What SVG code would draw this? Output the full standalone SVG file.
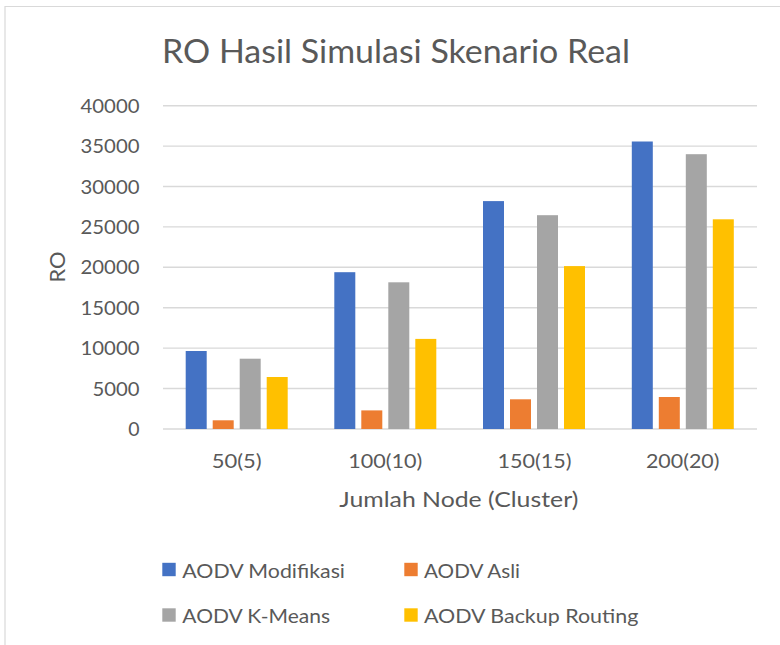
<svg xmlns="http://www.w3.org/2000/svg" width="780" height="645" viewBox="0 0 780 645">
  <style>
    .txt { font-family: Lato, "Open Sans", "Liberation Sans", sans-serif; fill: #595959; }
    .title { font-size: 32px; }
    .tick { font-size: 19.5px; text-anchor: end; }
    .cat { font-size: 19.5px; text-anchor: middle; }
    .axt { font-size: 22px; text-anchor: middle; }
    .leg { font-size: 19px; }
    .grid { stroke: #d9d9d9; stroke-width: 1.4; fill: none; }
    .s1 { fill: #4472c4; }
    .s2 { fill: #ed7d31; }
    .s3 { fill: #a5a5a5; }
    .s4 { fill: #ffc000; }
  </style>
  <rect x="0" y="0" width="780" height="645" fill="#ffffff"/>
  <!-- chart frame -->
  <path d="M5 645 V6.5 H780" fill="none" stroke="#d9d9d9" stroke-width="1.2"/>

  <text class="txt title" x="162" y="63" textLength="468" lengthAdjust="spacingAndGlyphs">RO Hasil Simulasi Skenario Real</text>

  <!-- gridlines -->
  <g id="gridlines">
    <line class="grid" x1="163" y1="105.7" x2="757" y2="105.7"/>
    <line class="grid" x1="163" y1="146.1" x2="757" y2="146.1"/>
    <line class="grid" x1="163" y1="186.5" x2="757" y2="186.5"/>
    <line class="grid" x1="163" y1="226.9" x2="757" y2="226.9"/>
    <line class="grid" x1="163" y1="267.3" x2="757" y2="267.3"/>
    <line class="grid" x1="163" y1="307.7" x2="757" y2="307.7"/>
    <line class="grid" x1="163" y1="348.1" x2="757" y2="348.1"/>
    <line class="grid" x1="163" y1="388.5" x2="757" y2="388.5"/>
    <line class="grid" x1="163" y1="429" x2="757" y2="429"/>
  </g>

  <!-- value axis labels -->
  <g id="y-axis">
    <text class="txt tick" x="139.5" y="112.7" textLength="59" lengthAdjust="spacingAndGlyphs">40000</text>
    <text class="txt tick" x="139.5" y="153.1" textLength="59" lengthAdjust="spacingAndGlyphs">35000</text>
    <text class="txt tick" x="139.5" y="193.5" textLength="59" lengthAdjust="spacingAndGlyphs">30000</text>
    <text class="txt tick" x="139.5" y="233.9" textLength="59" lengthAdjust="spacingAndGlyphs">25000</text>
    <text class="txt tick" x="139.5" y="274.3" textLength="59" lengthAdjust="spacingAndGlyphs">20000</text>
    <text class="txt tick" x="139.5" y="314.7" textLength="59" lengthAdjust="spacingAndGlyphs">15000</text>
    <text class="txt tick" x="139.5" y="355.1" textLength="59" lengthAdjust="spacingAndGlyphs">10000</text>
    <text class="txt tick" x="139.5" y="395.5" textLength="47" lengthAdjust="spacingAndGlyphs">5000</text>
    <text class="txt tick" x="139.5" y="436">0</text>
    <text class="txt axt" transform="translate(64.5 267) rotate(-90)" textLength="31" lengthAdjust="spacingAndGlyphs">RO</text>
  </g>

  <!-- bars -->
  <g id="group-50">
    <rect class="s1" x="185.7" y="351.0" width="21" height="78.0"/>
    <rect class="s2" x="212.7" y="420.3" width="21" height="8.7"/>
    <rect class="s3" x="239.7" y="358.7" width="21" height="70.3"/>
    <rect class="s4" x="266.7" y="377.0" width="21" height="52.0"/>
  </g>
  <g id="group-100">
    <rect class="s1" x="334.3" y="272.2" width="21" height="156.8"/>
    <rect class="s2" x="361.3" y="410.4" width="21" height="18.6"/>
    <rect class="s3" x="388.3" y="282.3" width="21" height="146.7"/>
    <rect class="s4" x="415.3" y="338.9" width="21" height="90.1"/>
  </g>
  <g id="group-150">
    <rect class="s1" x="483.0" y="201.1" width="21" height="227.9"/>
    <rect class="s2" x="510.0" y="399.3" width="21" height="29.7"/>
    <rect class="s3" x="537.0" y="215.2" width="21" height="213.8"/>
    <rect class="s4" x="564.0" y="266.1" width="21" height="162.9"/>
  </g>
  <g id="group-200">
    <rect class="s1" x="631.8" y="141.5" width="21" height="287.5"/>
    <rect class="s2" x="658.8" y="397.0" width="21" height="32.0"/>
    <rect class="s3" x="685.8" y="154.2" width="21" height="274.8"/>
    <rect class="s4" x="712.8" y="219.3" width="21" height="209.7"/>
  </g>

  <!-- category axis -->
  <g id="x-axis">
    <text class="txt cat" x="236.7" y="468" textLength="50" lengthAdjust="spacingAndGlyphs">50(5)</text>
    <text class="txt cat" x="385.3" y="468" textLength="74" lengthAdjust="spacingAndGlyphs">100(10)</text>
    <text class="txt cat" x="534.5" y="468" textLength="74" lengthAdjust="spacingAndGlyphs">150(15)</text>
    <text class="txt cat" x="682.7" y="468" textLength="73.5" lengthAdjust="spacingAndGlyphs">200(20)</text>
    <text class="txt axt" x="458.8" y="507" textLength="239" lengthAdjust="spacingAndGlyphs">Jumlah Node (Cluster)</text>
  </g>

  <!-- legend -->
  <g id="legend">
    <rect class="s1" x="162.3" y="562.8" width="13.4" height="13.4"/>
    <text class="txt leg" x="182.3" y="577.5" textLength="162.7" lengthAdjust="spacingAndGlyphs">AODV Modifikasi</text>
    <rect class="s2" x="404.3" y="562.8" width="13.4" height="13.4"/>
    <text class="txt leg" x="424" y="577.5" textLength="96" lengthAdjust="spacingAndGlyphs">AODV Asli</text>
    <rect class="s3" x="162.3" y="608.3" width="13.4" height="13.4"/>
    <text class="txt leg" x="182.3" y="623" textLength="147.7" lengthAdjust="spacingAndGlyphs">AODV K-Means</text>
    <rect class="s4" x="404.3" y="608.3" width="13.4" height="13.4"/>
    <text class="txt leg" x="424" y="623" textLength="214.3" lengthAdjust="spacingAndGlyphs">AODV Backup Routing</text>
  </g>
</svg>
